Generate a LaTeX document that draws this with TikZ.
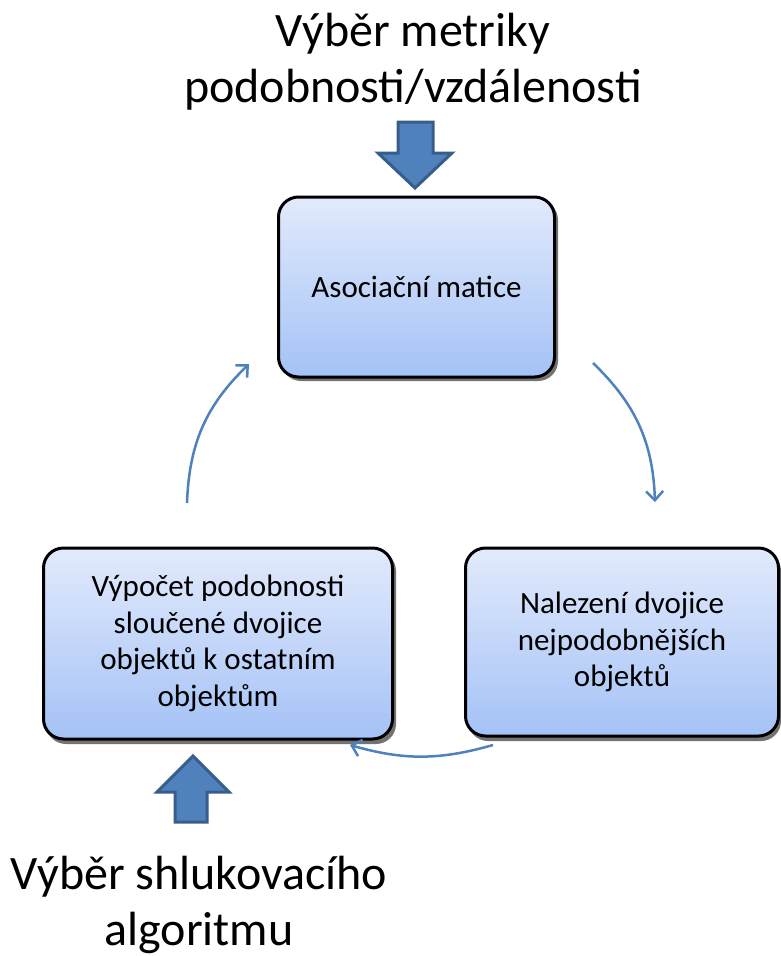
\documentclass[tikz,border=0pt]{standalone}
\usepackage{fontspec}
\setmainfont{Carlito}
\usetikzlibrary{arrows.meta}
\definecolor{accent}{HTML}{4F81BD}
\definecolor{accentdark}{HTML}{385D8A}
\definecolor{boxtop}{RGB}{226,234,252}
\definecolor{boxbot}{RGB}{164,194,246}
\tikzset{
  procbox/.style={draw=black, line width=3pt, rounded corners=20pt, top color=boxtop, bottom color=boxbot,
    align=center, font=\fontsize{31}{36.5}\selectfont, inner sep=0pt},
  cyclearrow/.style={draw=accent, line width=2.5pt, -{Straight Barb[length=9pt,width=17pt,line width=2.5pt]}},
  blockarrow/.style={fill=accent, draw=accentdark, line width=3pt, line join=miter},
  bigtext/.style={align=center, font=\fontsize{48}{56}\selectfont, inner sep=0pt}
}
\begin{document}
\begin{tikzpicture}[x=1pt,y=-1pt]
\useasboundingbox (0,0) rectangle (781,956);
% shadows
\fill[black!55, rounded corners=20pt] (281,200) rectangle (558,381);
\fill[black!55, rounded corners=20pt] (46,551) rectangle (396,744);
\fill[black!55, rounded corners=20pt] (468,551) rectangle (781,741);
% boxes
\node[procbox, minimum width=276pt, minimum height=180pt] (top) at (416.5,287) {Asociační matice};
\node[procbox, minimum width=349pt, minimum height=191pt] (left) at (218,643.5) {Výpočet podobnosti\\sloučené dvojice\\objektů k ostatním\\objektům};
\node[procbox, minimum width=313pt, minimum height=188pt] (right) at (622,642) {Nalezení dvojice\\nejpodobnějších\\objektů};
% titles
\node[bigtext] (t1) at (413,62) {Výběr metriky\\podobnosti/vzdálenosti};
\node[bigtext] (t2) at (199,905) {Výběr shlukovacího\\algoritmu};
% block arrows
\draw[blockarrow] (398,122) -- (433,122) -- (433,153) -- (452,153) -- (415,188) -- (378,153) -- (398,153) -- cycle;
\draw[blockarrow] (193,756) -- (229,792) -- (207,792) -- (207,822) -- (175,822) -- (175,792) -- (157,792) -- cycle;
% cycle arrows
\coordinate (a1) at (187,503);
\coordinate (a2) at (249,364);
\coordinate (b1) at (593,363);
\coordinate (b2) at (655,502);
\coordinate (c1) at (493,745);
\coordinate (c2) at (350,745);
\draw[cyclearrow] (a1) to[bend left=22] (a2);
\draw[cyclearrow] (b1) to[bend left=22] (b2);
\draw[cyclearrow] (c1) to[bend left=16] (c2);
\end{tikzpicture}
\end{document}
